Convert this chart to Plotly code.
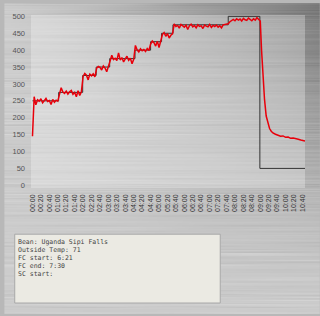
import zlib, struct, base64
import numpy as np
import plotly.graph_objects as go

# ---------------- data ----------------
# sample times (s) during roast (4 s interval) and measured bean temperature
roast_t = list(range(0, 540, 4))
roast_temp = [
    145,
    262, 238, 253, 249, 256, 244, 252, 257, 248, 251, 239, 254, 246, 252, 249,
    268, 289, 276, 272, 279, 270, 277, 281, 269, 275, 262, 280, 266, 277,
    322, 331, 326, 312, 329, 324, 330, 321,
    346, 352, 349, 341, 353, 347, 336, 350,
    368, 385, 372, 376, 369, 392, 371, 378, 365, 374, 382, 370, 376, 360, 373,
    414, 401, 395, 404, 398, 402, 396, 405, 399,
    418, 427, 422, 412, 426, 408, 428,
    446, 452, 441, 449, 436, 444, 448,
    478, 470, 473, 465, 476, 471, 468, 474, 461, 472, 477, 469, 473, 466, 475, 470,
    472, 464, 474, 471, 469, 476, 467, 473, 470, 474, 468, 472, 466, 475, 476, 479,
    478, 484, 488, 491, 487, 493, 489, 492, 486, 494, 490, 488, 495, 491, 487, 493,
    489, 496, 490,
]
cool_t = [540, 543, 546, 550, 554, 558, 562, 566, 570, 576, 582, 588, 594, 600,
          606, 612, 618, 624, 630, 636, 642, 646]
cool_temp = [486, 400, 320, 255, 205, 182, 168, 160, 155, 151, 148, 145, 146, 142,
             143, 139, 140, 137, 136, 134, 133, 131]

# setpoint profile (step)
set_t = [0, 62, 119, 151, 183, 243, 280, 306, 333, 464, 539, 646]
set_v = [250, 275, 325, 350, 375, 400, 425, 450, 475, 500, 50, 50]

x_tickvals = list(range(0, 641, 20))
x_ticktext = ["00:00", "00:20", "00:40", "01:00", "01:20", "01:40", "02:00", "02:20",
              "02:40", "03:00", "03:20", "03:40", "04:00", "04:20", "04:40", "05:00",
              "05:20", "05:40", "06:00", "06:20", "06:40", "07:00", "07:20", "07:40",
              "08:00", "08:20", "08:40", "09:00", "09:20", "09:40", "10:00", "10:20",
              "10:40"]
y_tickvals = [0, 50, 100, 150, 200, 250, 300, 350, 400, 450, 500]

notes = ["Bean: Uganda Sipi Falls", "Outside Temp: 71", "FC start: 6:21",
         "FC end: 7:30", "SC start:"]

# ---------------- background (brushed metal decoration) ----------------
W, H = 320, 316
PL, PR, PT, PB = 27, 305, 12, 188
yy, xx = np.mgrid[0:H, 0:W].astype(float)
base = 205 - 85 * (xx / W) ** 1.3 * (1 - yy / H) ** 1.4
rowh = np.abs(np.modf(np.sin(np.arange(H) * 12.9898) * 43758.5453)[0])
rowp = np.abs(np.modf(np.sin(np.arange(H) * 78.233) * 12345.678)[0])
streak = 22 * (rowh[:, None] - 0.5) * (0.55 + 0.45 * np.sin(xx * 0.035 + 6.28 * rowp[:, None]))
img = base + streak
inside = (xx >= PL) & (xx < PR) & (yy >= PT) & (yy < PB)
img = np.where(inside, img * 0.72 + 255 * 0.28, img)
img = np.clip(img, 0, 255).astype(np.uint8)


def png_gray(a):
    h, w = a.shape
    raw = b"".join(b"\x00" + a[i].tobytes() for i in range(h))

    def chunk(t, d):
        return struct.pack(">I", len(d)) + t + d + struct.pack(">I", zlib.crc32(t + d) & 0xffffffff)

    ihdr = struct.pack(">IIBBBBB", w, h, 8, 0, 0, 0, 0)
    return b"\x89PNG\r\n\x1a\n" + chunk(b"IHDR", ihdr) + chunk(b"IDAT", zlib.compress(raw, 9)) + chunk(b"IEND", b"")


bg_uri = "data:image/png;base64," + base64.b64encode(png_gray(img)).decode()

# ---------------- figure ----------------
fig = go.Figure()
fig.add_trace(go.Scatter(x=set_t, y=set_v, mode="lines", line_shape="hv",
                         line=dict(color="#333333", width=1), hoverinfo="skip"))
fig.add_trace(go.Scatter(x=roast_t + cool_t, y=roast_temp + cool_temp, mode="lines",
                         line=dict(color="#e8000b", width=1.5), hoverinfo="skip"))

pw, ph = PR - PL, PB - PT
fig.add_layout_image(dict(source=bg_uri, xref="paper", yref="paper",
                          x=-PL / pw, y=1 + PT / ph, sizex=W / pw, sizey=H / ph,
                          xanchor="left", yanchor="top", sizing="stretch", layer="below"))

# notes box (textarea)
bx0, bx1, by0, by1 = 10.5, 219, 235, 305
fig.add_shape(type="rect", xref="paper", yref="paper",
              x0=(bx0 - PL) / pw, x1=(bx1 - PL) / pw,
              y0=(PB - by1) / ph, y1=(PB - by0) / ph,
              fillcolor="#ebeae3", line=dict(color="#a8a8a8", width=1))
for i, line in enumerate(notes):
    ypx = 242.5 + i * 8.3
    fig.add_annotation(text=line, xref="paper", yref="paper",
                       x=(12 - PL) / pw, y=(PB - ypx) / ph, xanchor="left", yanchor="middle",
                       showarrow=False, font=dict(family="DejaVu Sans Mono", size=6.5, color="#444444"))

fig.update_layout(
    width=W, height=H, margin=dict(l=PL, r=W - PR, t=PT, b=H - PB),
    paper_bgcolor="#b8b8b8", plot_bgcolor="rgba(0,0,0,0)",
    showlegend=False,
    xaxis=dict(range=[-3.5, 646], tickvals=x_tickvals, ticktext=x_ticktext, tickangle=-90,
               showgrid=False, zeroline=False, showline=False, ticks="",
               ticklabelstandoff=4,
               tickfont=dict(family="Liberation Sans", size=7, color="#333333")),
    yaxis=dict(range=[-8, 504], tickvals=y_tickvals, showgrid=False, zeroline=False,
               showline=False, ticks="", ticklabelstandoff=5,
               tickfont=dict(family="Liberation Sans", size=7.5, color="#555555")),
)

fig.write_html("out.html")
